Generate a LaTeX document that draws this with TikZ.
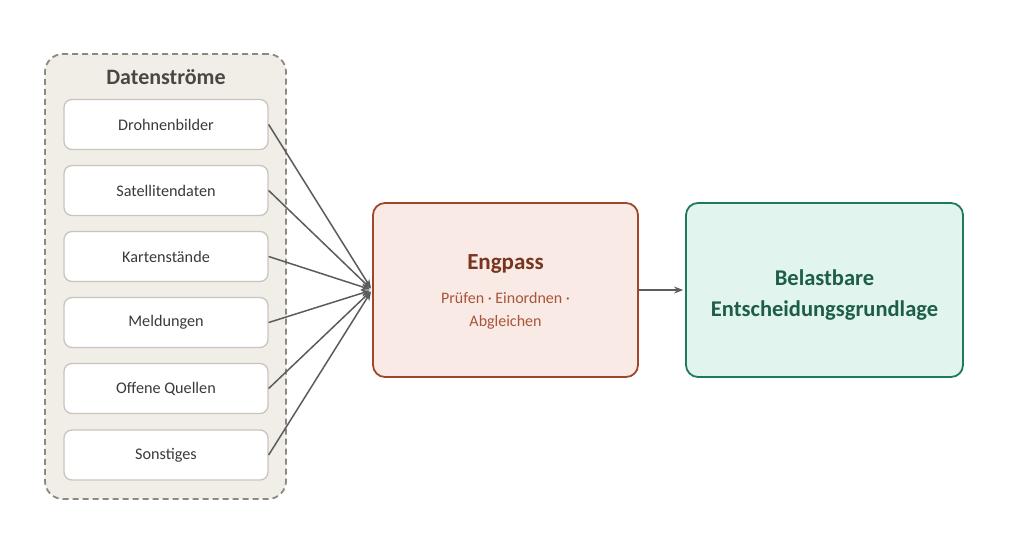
\documentclass[tikz,border=0pt]{standalone}
\usepackage{fontspec}
\setmainfont{Carlito}
\usepackage{tikz}
\usetikzlibrary{arrows.meta}
\usepackage{xcolor}

\definecolor{groupfill}{HTML}{F1EEE8}
\definecolor{groupline}{HTML}{8C8882}
\definecolor{grouptext}{HTML}{4A4742}
\definecolor{srcline}{HTML}{C9C5BE}
\definecolor{srctext}{HTML}{3A3A38}
\definecolor{arrowgray}{HTML}{5C5C5A}
\definecolor{engfill}{HTML}{F9EAE5}
\definecolor{engline}{HTML}{A0462A}
\definecolor{engtitle}{HTML}{7A3520}
\definecolor{engsub}{HTML}{A8553A}
\definecolor{resfill}{HTML}{E2F4EE}
\definecolor{resline}{HTML}{1F7A5A}
\definecolor{restext}{HTML}{1D5E48}

\begin{document}
\begin{tikzpicture}[x=1pt, y=-1pt,
    source/.style={draw=srcline, fill=white, line width=1.3pt, rounded corners=8pt,
        minimum width=204pt, minimum height=50pt, text=srctext,
        font=\fontsize{16.2}{19}\selectfont},
    feed/.style={draw=arrowgray, line width=1.5pt, shorten >=2pt, -{Stealth[length=9pt, width=7pt]}}]
    \useasboundingbox (0, 0) rectangle (1024, 536);

    % Datenstroeme group
    \node[draw=groupline, fill=groupfill, dashed, dash pattern=on 6pt off 4pt, line width=1.8pt,
        rounded corners=18pt, minimum width=241pt, minimum height=445pt] (group) at (165.5, 276.5) {};
    \node[text=grouptext, font=\fontsize{22}{26}\selectfont\bfseries] (title) at (166, 77) {Datenströme};

    \node[source] (drohne) at (166, 124.5) {Drohnenbilder};
    \node[source] (sat) at (166, 190.5) {Satellitendaten};
    \node[source] (karte) at (166, 256.5) {Kartenstände};
    \node[source] (meld) at (166, 322.5) {Meldungen};
    \node[source] (osint) at (166, 388.5) {Offene Quellen};
    \node[source] (sonst) at (166, 455) {Sonstiges};

    % Engpass and result
    \node[draw=engline, fill=engfill, line width=1.8pt, rounded corners=12pt,
        minimum width=265pt, minimum height=174pt] (eng) at (505.5, 290) {};
    \node[text=engtitle, font=\fontsize{23}{27}\selectfont\bfseries] (engtitle) at (505.5, 264) {Engpass};
    \node[text=engsub, font=\fontsize{16}{19}\selectfont] (engsub1) at (505.5, 298) {Prüfen · Einordnen ·};
    \node[text=engsub, font=\fontsize{16}{19}\selectfont] (engsub2) at (505.5, 322) {Abgleichen};

    \node[draw=resline, fill=resfill, line width=1.8pt, rounded corners=12pt,
        minimum width=277pt, minimum height=174pt] (res) at (824.5, 290) {};
    \node[text=restext, font=\fontsize{22.5}{26}\selectfont\bfseries] (res1) at (824.5, 278) {Belastbare};
    \node[text=restext, font=\fontsize{22.5}{26}\selectfont\bfseries] (res2) at (824.5, 311) {Entscheidungsgrundlage};

    \draw[feed] (drohne.east) -- (eng.west);
    \draw[feed] (sat.east) -- (eng.west);
    \draw[feed] (karte.east) -- (eng.west);
    \draw[feed] (meld.east) -- (eng.west);
    \draw[feed] (osint.east) -- (eng.west);
    \draw[feed] (sonst.east) -- (eng.west);
    \draw[feed] (eng.east) -- (res.west);
\end{tikzpicture}
\end{document}
